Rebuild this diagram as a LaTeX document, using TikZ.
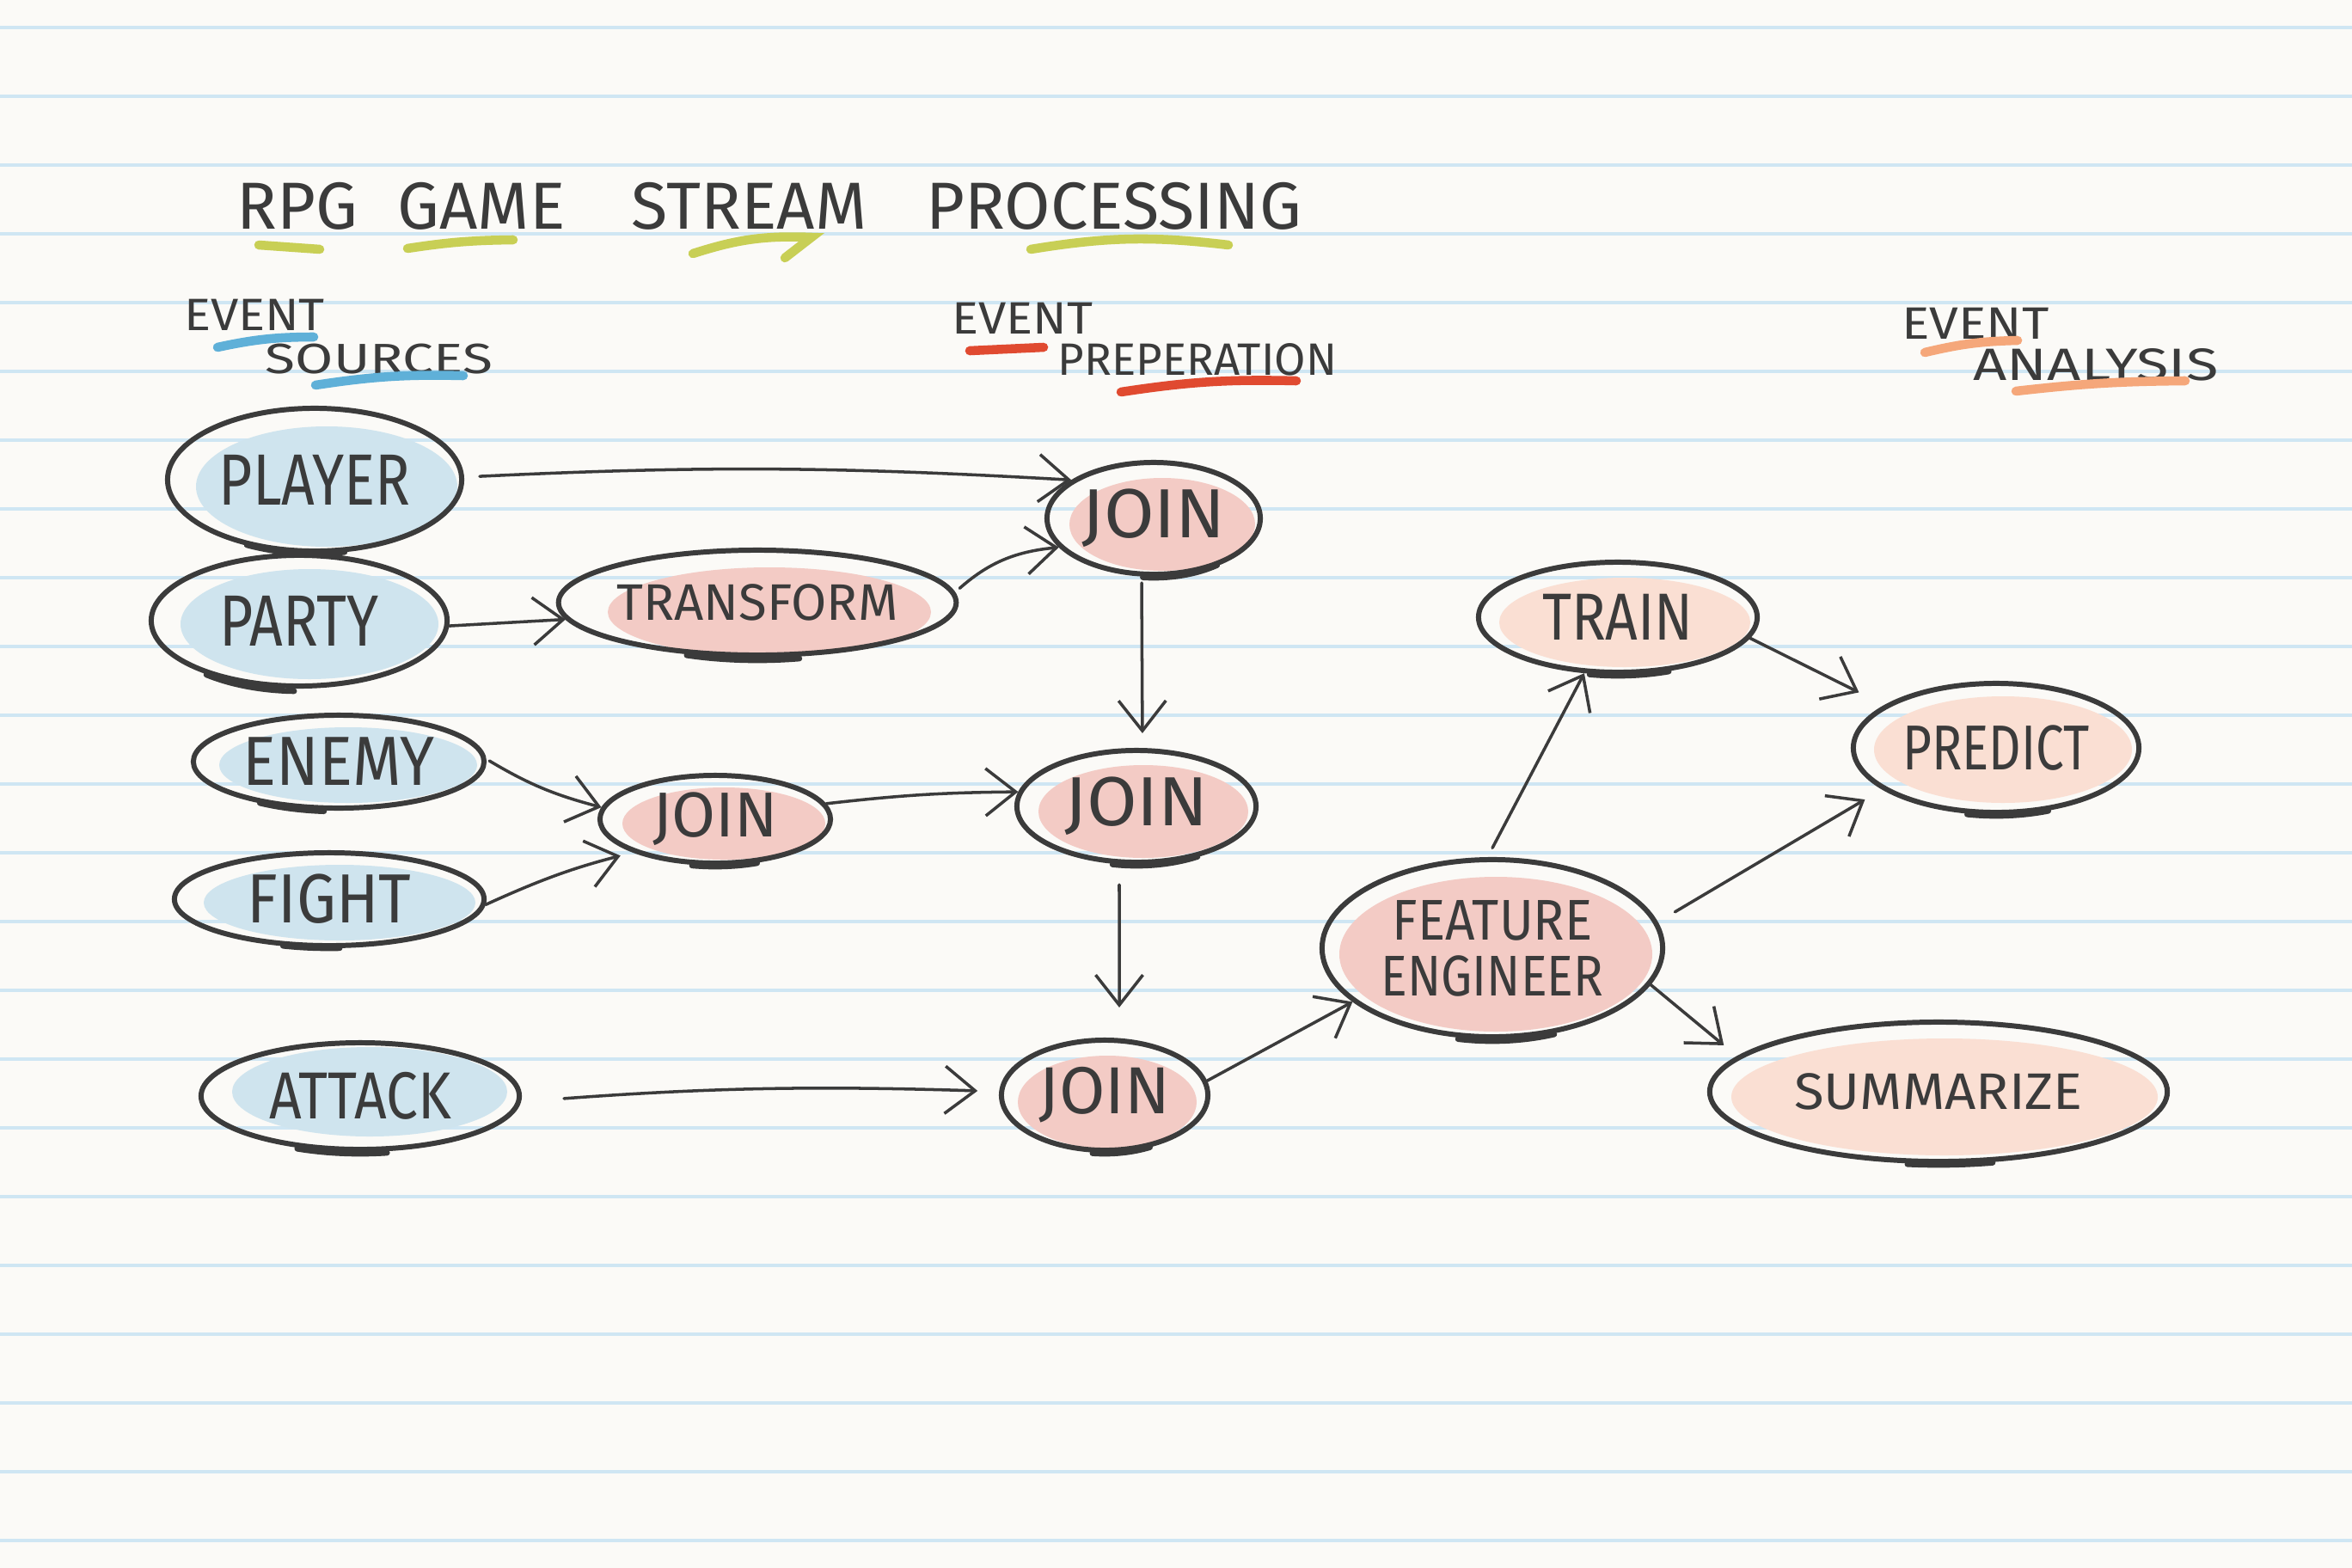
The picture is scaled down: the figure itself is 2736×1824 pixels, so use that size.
\documentclass[tikz,border=0pt]{standalone}
\usepackage{fontspec}
\setmainfont{Fira Sans}
\usepackage{graphicx}
\usetikzlibrary{arrows.meta,shapes.geometric}
\definecolor{paper}{HTML}{FBFAF7}
\definecolor{rule}{HTML}{CFE6F3}
\definecolor{inkc}{HTML}{3B3B3B}
\definecolor{bluefill}{HTML}{CFE4EE}
\definecolor{pinkfill}{HTML}{F3CBC5}
\definecolor{peachfill}{HTML}{FADFD3}
\definecolor{ulgreen}{HTML}{C8CF55}
\definecolor{ulblue}{HTML}{5FB0D8}
\definecolor{ulred}{HTML}{E04A30}
\definecolor{ulorange}{HTML}{F5A77A}
\newcommand\lab[3]{\fontsize{#1}{#1}\selectfont\scalebox{#2}[1]{#3}}
\newcommand\pentail[5]{\draw[tailpen] (#1.center) ++(#4:#2 and #3) arc[start angle=#4,end angle=#5,x radius=#2,y radius=#3];}
\begin{document}
\begin{tikzpicture}[x=0.01cm,y=-0.01cm,
  bubble/.style={ellipse, draw=inkc, line width=1.7pt, inner sep=0pt, text=inkc, align=center},
  tailpen/.style={draw=inkc, line width=1.9pt, line cap=round},
  arr/.style={draw=inkc, line width=1pt, line cap=round, -{Straight Barb[length=3.5mm,width=5.5mm,line width=1pt]}},
  ul/.style={line width=3pt, line cap=round},
  head/.style={text=inkc, inner sep=0pt}]
\useasboundingbox (0,0) rectangle (2736,1824);
\fill[paper] (0,0) rectangle (2736,1824);
\foreach \k in {0,...,22} \draw[rule, line width=0.9pt] (0,{32+80*\k}) -- (2736,{32+80*\k});

% title and headings
\node[head, font=\fontsize{22}{26}\selectfont] (title) at (895,240) {RPG\hspace{0.6em}GAME\hspace{1em}STREAM\hspace{0.9em}PROCESSING};
\draw[ulgreen, ul] (301,285) -- (372,290);
\draw[ulgreen, ul] (474,289) to[bend left=4] (597,279);
\draw[ulgreen, ul] (806,295) to[bend left=10] (944,276) -- (913,300);
\draw[ulgreen, ul] (1199,290) to[bend left=8] (1429,285);

\node[head] (evsrc) at (296,366) {\lab{15}{1.1}{EVENT}};
\node[head] (sources) at (441,418) {\lab{14}{1.3}{SOURCES}};
\draw[ulblue, ul] (253,404) to[bend left=6] (365,392);
\draw[ulblue, ul] (367,448) to[bend left=5] (539,437);

\node[head] (evprep) at (1189,370) {\lab{15}{1.1}{EVENT}};
\node[head] (prep) at (1393,418) {\lab{15}{1.0}{PREPERATION}};
\draw[ulred, ul] (1128,408) -- (1214,404);
\draw[ulred, ul] (1304,456) to[bend left=5] (1508,443);

\node[head] (evana) at (2298,376) {\lab{15}{1.15}{EVENT}};
\node[head] (analysis) at (2438,424) {\lab{15}{1.3}{ANALYSIS}};
\draw[ulorange, ul] (2239,410) to[bend left=6] (2347,396);
\draw[ulorange, ul] (2345,455) to[bend left=3] (2542,443);

% colour washes
\fill[bluefill] (380,566) ellipse[x radius=152, y radius=70];
\fill[bluefill] (360,726) ellipse[x radius=150, y radius=64];
\fill[bluefill] (405,890) ellipse[x radius=150, y radius=44];
\fill[bluefill] (395,1050) ellipse[x radius=158, y radius=44];
\fill[bluefill] (430,1270) ellipse[x radius=160, y radius=52];
\fill[pinkfill] (895,712) ellipse[x radius=188, y radius=52];
\fill[pinkfill] (1352,610) ellipse[x radius=108, y radius=54];
\fill[pinkfill] (842,958) ellipse[x radius=118, y radius=42];
\fill[pinkfill] (1330,944) ellipse[x radius=122, y radius=54];
\fill[pinkfill] (1288,1282) ellipse[x radius=104, y radius=54];
\fill[pinkfill] (1740,1110) ellipse[x radius=182, y radius=90];
\fill[peachfill] (1890,724) ellipse[x radius=146, y radius=52];
\fill[peachfill] (2330,872) ellipse[x radius=150, y radius=62];
\fill[peachfill] (2262,1276) ellipse[x radius=248, y radius=68];

% nodes
\node[bubble, minimum width=3.42cm, minimum height=1.66cm] (player) at (366,558) {\lab{24}{0.8}{PLAYER}};
\node[bubble, minimum width=3.44cm, minimum height=1.52cm] (party) at (348,722) {\lab{24}{0.8}{PARTY}};
\node[bubble, minimum width=3.38cm, minimum height=1.08cm] (enemy) at (394,886) {\lab{23}{0.9}{ENEMY}};
\node[bubble, minimum width=3.60cm, minimum height=1.08cm] (fight) at (383,1046) {\lab{23}{0.9}{FIGHT}};
\node[bubble, minimum width=3.70cm, minimum height=1.24cm] (attack) at (419,1275) {\lab{22}{0.85}{ATTACK}};
\node[bubble, minimum width=4.12cm, minimum height=1.22cm] (transform) at (881,701) {\lab{17}{1.0}{TRANSFORM}};
\node[bubble, minimum width=2.48cm, minimum height=1.30cm] (join1) at (1342,603) {\lab{23}{1.05}{JOIN}};
\node[bubble, minimum width=2.68cm, minimum height=1.02cm] (join0) at (832,953) {\lab{21}{1.0}{JOIN}};
\node[bubble, minimum width=2.78cm, minimum height=1.30cm] (join2) at (1322,938) {\lab{23}{1.05}{JOIN}};
\node[bubble, minimum width=2.40cm, minimum height=1.28cm] (join3) at (1285,1274) {\lab{22}{1.0}{JOIN}};
\node[bubble, minimum width=3.96cm, minimum height=2.06cm] (feature) at (1736,1103) {\lab{19}{0.9}{FEATURE}\\[4pt]\lab{19}{0.86}{ENGINEER}};
\node[bubble, minimum width=3.24cm, minimum height=1.28cm] (train) at (1882,718) {\lab{22}{0.85}{TRAIN}};
\node[bubble, minimum width=3.32cm, minimum height=1.50cm] (predict) at (2322,870) {\lab{21}{0.79}{PREDICT}};
\node[bubble, minimum width=5.32cm, minimum height=1.62cm] (summarize) at (2255,1270) {\lab{17}{1.06}{SUMMARIZE}};

% pen overshoot strokes
\pentail{player}{168}{86}{78}{118}
\pentail{party}{168}{82}{92}{130}
\pentail{enemy}{164}{58}{96}{124}
\pentail{fight}{174}{57}{86}{108}
\pentail{attack}{180}{67}{80}{114}
\pentail{transform}{202}{67}{76}{114}
\pentail{join1}{120}{69}{52}{96}
\pentail{join0}{130}{55}{68}{102}
\pentail{join2}{134}{69}{58}{102}
\pentail{join3}{116}{68}{63}{97}
\pentail{feature}{192}{108}{68}{102}
\pentail{train}{158}{68}{68}{102}
\pentail{predict}{162}{79}{68}{102}
\pentail{summarize}{260}{85}{76}{98}

% connectors
\draw[arr, shorten <=0.18cm] (player.1) to[bend left=3] (join1.155);
\draw[arr] (party.-2) -- (transform.185);
\draw[arr, shorten <=0.07cm] (transform.3) to[bend left=18] (join1.197);
\draw[arr, shorten <=0.07cm, shorten >=0.17cm] ([xshift=-0.14cm]join1.south) -- ([xshift=0.07cm]join2.north);
\draw[arr, shorten <=0.04cm] (enemy.1) to[bend right=8] (join0.174);
\draw[arr, shorten >=0.15cm] (fight.-2) to[bend left=5] (join0.202);
\draw[arr] (join0.8) to[bend left=3] (join2.173);
\draw[arr, shorten <=0.23cm, shorten >=0.35cm] ([xshift=-0.2cm]join2.south) -- ([xshift=0.17cm]join3.north);
\draw[arr, shorten <=0.5cm, shorten >=0.25cm] (attack.-2) to[bend left=3] (join3.178);
\draw[arr] (join3.8) -- (feature.201);
\draw[arr, shorten <=0.12cm] (feature.93) -- (train.239);
\draw[arr, shorten >=0.33cm] (train.-9) -- (predict.159);
\draw[arr, shorten <=0.23cm, shorten >=0.23cm] (feature.9) -- (predict.200);
\draw[arr, shorten >=0.2cm] (feature.-13) -- (summarize.170);
\end{tikzpicture}
\end{document}
